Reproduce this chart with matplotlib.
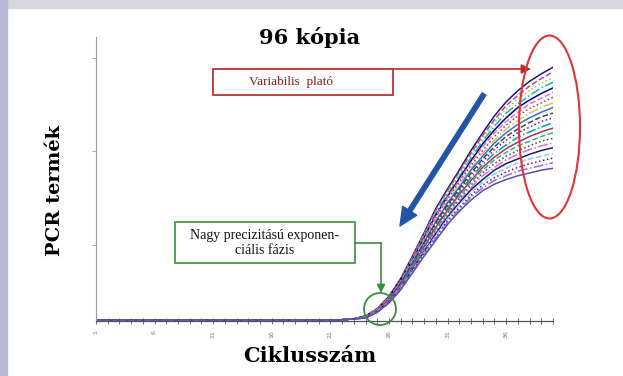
import matplotlib
matplotlib.use("Agg")
import matplotlib.pyplot as plt
from matplotlib.patches import Rectangle, Ellipse
from matplotlib.lines import Line2D

# Cycles and baseline level
CYCLES = list(range(1, 41))
FLAT_CYCLES = 22          # cycles 1..22 sit on the baseline
BASELINE = 0.20

# Amplification curves, cycles 23..40 (top plateau to bottom plateau)
curve_01 = [0.21, 0.24, 0.32, 0.45, 0.64, 0.88, 1.13, 1.39, 1.60, 1.80, 2.01, 2.20, 2.38, 2.53, 2.65, 2.75, 2.83, 2.90]
curve_02 = [0.21, 0.24, 0.32, 0.45, 0.63, 0.87, 1.12, 1.37, 1.58, 1.78, 1.98, 2.17, 2.34, 2.49, 2.60, 2.70, 2.78, 2.85]
curve_03 = [0.21, 0.24, 0.32, 0.44, 0.63, 0.86, 1.11, 1.36, 1.56, 1.76, 1.96, 2.14, 2.31, 2.45, 2.56, 2.65, 2.73, 2.79]
curve_04 = [0.21, 0.24, 0.31, 0.44, 0.62, 0.85, 1.09, 1.34, 1.54, 1.73, 1.93, 2.11, 2.27, 2.41, 2.51, 2.60, 2.68, 2.74]
curve_05 = [0.21, 0.24, 0.31, 0.44, 0.62, 0.84, 1.08, 1.32, 1.52, 1.71, 1.90, 2.08, 2.23, 2.36, 2.47, 2.55, 2.62, 2.68]
curve_06 = [0.21, 0.24, 0.31, 0.43, 0.61, 0.84, 1.07, 1.31, 1.51, 1.69, 1.88, 2.05, 2.20, 2.32, 2.42, 2.51, 2.57, 2.63]
curve_07 = [0.21, 0.23, 0.31, 0.43, 0.60, 0.83, 1.06, 1.29, 1.49, 1.67, 1.85, 2.01, 2.16, 2.28, 2.38, 2.46, 2.52, 2.58]
curve_08 = [0.21, 0.23, 0.31, 0.43, 0.60, 0.82, 1.04, 1.27, 1.47, 1.65, 1.82, 1.98, 2.12, 2.24, 2.33, 2.41, 2.47, 2.52]
curve_09 = [0.21, 0.23, 0.30, 0.42, 0.59, 0.81, 1.03, 1.25, 1.45, 1.62, 1.80, 1.95, 2.09, 2.20, 2.29, 2.36, 2.42, 2.47]
curve_10 = [0.21, 0.23, 0.30, 0.42, 0.59, 0.80, 1.02, 1.24, 1.43, 1.60, 1.77, 1.92, 2.05, 2.16, 2.24, 2.31, 2.37, 2.41]
curve_11 = [0.21, 0.23, 0.30, 0.42, 0.58, 0.79, 1.01, 1.22, 1.41, 1.58, 1.75, 1.89, 2.02, 2.12, 2.20, 2.26, 2.32, 2.36]
curve_12 = [0.21, 0.23, 0.30, 0.41, 0.57, 0.78, 0.99, 1.20, 1.39, 1.56, 1.72, 1.86, 1.98, 2.07, 2.15, 2.21, 2.26, 2.31]
curve_13 = [0.21, 0.23, 0.30, 0.41, 0.57, 0.77, 0.98, 1.19, 1.37, 1.54, 1.69, 1.83, 1.94, 2.03, 2.10, 2.16, 2.21, 2.25]
curve_14 = [0.21, 0.23, 0.29, 0.40, 0.56, 0.76, 0.97, 1.17, 1.35, 1.51, 1.67, 1.80, 1.91, 1.99, 2.06, 2.11, 2.16, 2.20]
curve_15 = [0.21, 0.23, 0.29, 0.40, 0.56, 0.75, 0.96, 1.15, 1.33, 1.49, 1.64, 1.77, 1.87, 1.95, 2.01, 2.06, 2.11, 2.14]
curve_16 = [0.21, 0.23, 0.29, 0.40, 0.55, 0.75, 0.94, 1.14, 1.32, 1.47, 1.61, 1.74, 1.83, 1.91, 1.97, 2.02, 2.06, 2.09]
curve_17 = [0.21, 0.22, 0.29, 0.39, 0.54, 0.74, 0.93, 1.12, 1.30, 1.45, 1.59, 1.70, 1.80, 1.87, 1.92, 1.97, 2.01, 2.04]
curve_18 = [0.21, 0.22, 0.29, 0.39, 0.54, 0.73, 0.92, 1.10, 1.28, 1.43, 1.56, 1.67, 1.76, 1.82, 1.88, 1.92, 1.95, 1.98]
curve_19 = [0.21, 0.22, 0.28, 0.39, 0.53, 0.72, 0.91, 1.08, 1.26, 1.40, 1.53, 1.64, 1.72, 1.78, 1.83, 1.87, 1.90, 1.93]
curve_20 = [0.21, 0.22, 0.28, 0.38, 0.53, 0.71, 0.89, 1.07, 1.24, 1.38, 1.51, 1.61, 1.69, 1.74, 1.79, 1.82, 1.85, 1.88]
curve_21 = [0.21, 0.22, 0.28, 0.38, 0.52, 0.70, 0.88, 1.05, 1.22, 1.36, 1.48, 1.58, 1.65, 1.70, 1.74, 1.77, 1.80, 1.82]

CURVES = [curve_01, curve_02, curve_03, curve_04, curve_05, curve_06, curve_07,
          curve_08, curve_09, curve_10, curve_11, curve_12, curve_13, curve_14,
          curve_15, curve_16, curve_17, curve_18, curve_19, curve_20, curve_21]

COLORS = ['#1a1a6e', '#c43c9c', '#9acd32', '#20b2aa', '#000080', '#ff69b4',
          '#7a3fa0', '#d4c84a', '#4169e1', '#2f4f4f', '#8b008b', '#00a0a0',
          '#b03060', '#3cb371', '#483d8b', '#da70d6', '#191970', '#87ceeb',
          '#800080', '#9370db', '#5a4fa8']
STYLES = ['-', '--', ':', '-.']

Y_TICKS = [1, 2, 3]
X_LABEL_TICKS = [1, 6, 11, 16, 21, 26, 31, 36]

W, H = 623, 376


def fx(px):
    return px / W


def fy(py):
    return 1 - py / H


fig = plt.figure(figsize=(W / 100, H / 100), dpi=100, facecolor='white')

# slide frame: grey top band and lavender left strip
fig.patches.append(Rectangle((0, fy(8)), 1, 8 / H, transform=fig.transFigure,
                             color='#d6d6dc', zorder=0))
fig.patches.append(Rectangle((0, 0), 7 / W, 1, transform=fig.transFigure,
                             color='#b8b8d6', zorder=0))

ax = fig.add_axes([fx(96), fy(321), (553 - 96) / W, (321 - 37) / H])
ax.set_facecolor('none')

for i, c in enumerate(CURVES):
    y = [BASELINE] * FLAT_CYCLES + c
    ax.plot(CYCLES, y, color=COLORS[i % len(COLORS)],
            linestyle=STYLES[i % len(STYLES)], lw=1.1)

ax.set_xlim(1, 40)
ax.set_ylim(0.187, 3.224)

for s in ['top', 'right']:
    ax.spines[s].set_visible(False)
ax.spines['left'].set_color('#9a9a9a')
ax.spines['left'].set_linewidth(0.8)
ax.spines['bottom'].set_color('#555555')
ax.spines['bottom'].set_linewidth(0.9)

ax.set_yticks(Y_TICKS)
ax.set_yticklabels([])
ax.tick_params(axis='y', direction='out', length=3, width=0.6, color='#999999')

ax.set_xticks(X_LABEL_TICKS)
ax.set_xticks(CYCLES, minor=True)
ax.set_xticklabels([str(t) for t in X_LABEL_TICKS], rotation=90,
                   fontsize=4.5, color='#777777')
ax.tick_params(axis='x', which='both', direction='inout', length=5,
               width=0.6, color='#555555', pad=4)

# titles
fig.text(fx(310), fy(38), '96 kópia', ha='center', va='center',
         fontsize=15, fontweight='bold', family='DejaVu Serif')
fig.text(fx(55), fy(190), 'PCR termék', ha='center', va='center', rotation=90,
         fontsize=14, fontweight='bold', family='DejaVu Serif')
fig.text(fx(310), fy(356), 'Ciklusszám', ha='center', va='center',
         fontsize=15, fontweight='bold', family='DejaVu Serif')

# red plateau annotation
fig.patches.append(Rectangle((fx(213), fy(95)), (393 - 213) / W, (95 - 69) / H,
                             transform=fig.transFigure, fill=False,
                             ec='#b03838', lw=1.3))
fig.text(fx(291), fy(82), 'Variabilis  plató', ha='center', va='center',
         fontsize=9.5, color='#8b1a1a', family='Liberation Serif')
ax.annotate('', xy=(fx(531), fy(69)), xytext=(fx(393), fy(69)),
            xycoords='figure fraction', textcoords='figure fraction',
            arrowprops=dict(arrowstyle='-|>', color='#c02828', lw=1.2,
                            mutation_scale=14, shrinkA=0, shrinkB=0))
fig.patches.append(Ellipse((fx(549.5), fy(127)), 61 / W, 183 / H,
                           transform=fig.transFigure, fill=False,
                           ec='#e03535', lw=1.5))

# blue arrow
ax.annotate('', xy=(fx(400), fy(226)), xytext=(fx(484), fy(94)),
            xycoords='figure fraction', textcoords='figure fraction',
            arrowprops=dict(width=3.2, headwidth=12, headlength=13,
                            color='#2455a4', shrink=0))

# green exponential-phase annotation
fig.patches.append(Rectangle((fx(175), fy(263)), (355 - 175) / W, (263 - 222) / H,
                             transform=fig.transFigure, fill=False,
                             ec='#3d8c3d', lw=1.2))
fig.text(fx(265), fy(243), 'Nagy precizitású exponen-\nciális fázis',
         ha='center', va='center', fontsize=10, linespacing=1.15,
         family='Liberation Serif', color='#111111')
fig.lines.append(Line2D([fx(355), fx(381)], [fy(243), fy(243)],
                        transform=fig.transFigure, color='#3d8c3d', lw=1.2))
ax.annotate('', xy=(fx(381), fy(293)), xytext=(fx(381), fy(243)),
            xycoords='figure fraction', textcoords='figure fraction',
            arrowprops=dict(arrowstyle='-|>', color='#3d8c3d', lw=1.2,
                            mutation_scale=12, shrinkA=0, shrinkB=0))
fig.patches.append(Ellipse((fx(380), fy(309)), 32 / W, 32 / H,
                           transform=fig.transFigure, fill=False,
                           ec='#3d8c3d', lw=1.3))

fig.savefig('out.png', dpi=100, facecolor='white')
